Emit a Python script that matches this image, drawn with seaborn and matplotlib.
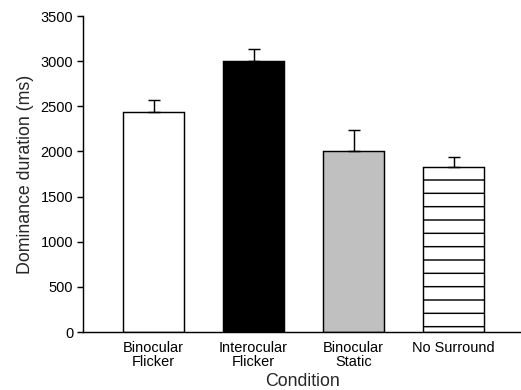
import numpy as np
import pandas as pd
import matplotlib
matplotlib.use("Agg")
import matplotlib.pyplot as plt
import seaborn as sns

# values
conditions = ["Binocular\nFlicker", "Interocular\nFlicker", "Binocular\nStatic", "No Surround"]
duration = [2437, 2998, 2005, 1831]
sem = [129, 140, 229, 111]
fills = ["white", "black", "#c0c0c0", "white"]

df = pd.DataFrame({"condition": conditions, "duration": duration})

sns.set_style("white")
plt.rcParams["font.family"] = ["Liberation Sans", "DejaVu Sans"]
plt.rcParams["hatch.linewidth"] = 1.3

fig = plt.figure(figsize=(521 / 80, 390 / 80), dpi=80)
ax = fig.add_axes([83 / 521, 1 - 332 / 390, 1 - 83 / 521, (332 - 16) / 390])

sns.barplot(data=df, x="condition", y="duration", hue="condition", palette=fills,
            legend=False, width=0.61, edgecolor="black", linewidth=1.3, ax=ax, errorbar=None)
ax.patches[3].set_hatch("-")

# upper error bars only
ax.errorbar(np.arange(len(conditions)), duration, yerr=[np.zeros(len(sem)), sem],
            fmt="none", ecolor="black", elinewidth=1.3, capsize=5, capthick=1.3, zorder=5)

ax.set_ylim(0, 3500)
ax.set_xlim(-0.705, 3.675)
ax.set_yticks(range(0, 3501, 500))
sns.despine(ax=ax)
for s in ["left", "bottom"]:
    ax.spines[s].set_linewidth(1.3)
    ax.spines[s].set_color("black")
ax.tick_params(axis="y", left=True, length=5, width=1.3, labelsize=13, pad=4, colors="black")
ax.tick_params(axis="x", bottom=False, labelsize=13, pad=5, colors="black")
for lbl in ax.get_xticklabels():
    lbl.set_linespacing(0.95)
ax.set_xlabel("Condition", fontsize=16, labelpad=4)
ax.set_ylabel("Dominance duration (ms)", fontsize=16, labelpad=6)

plt.savefig("out.png", dpi=80)
